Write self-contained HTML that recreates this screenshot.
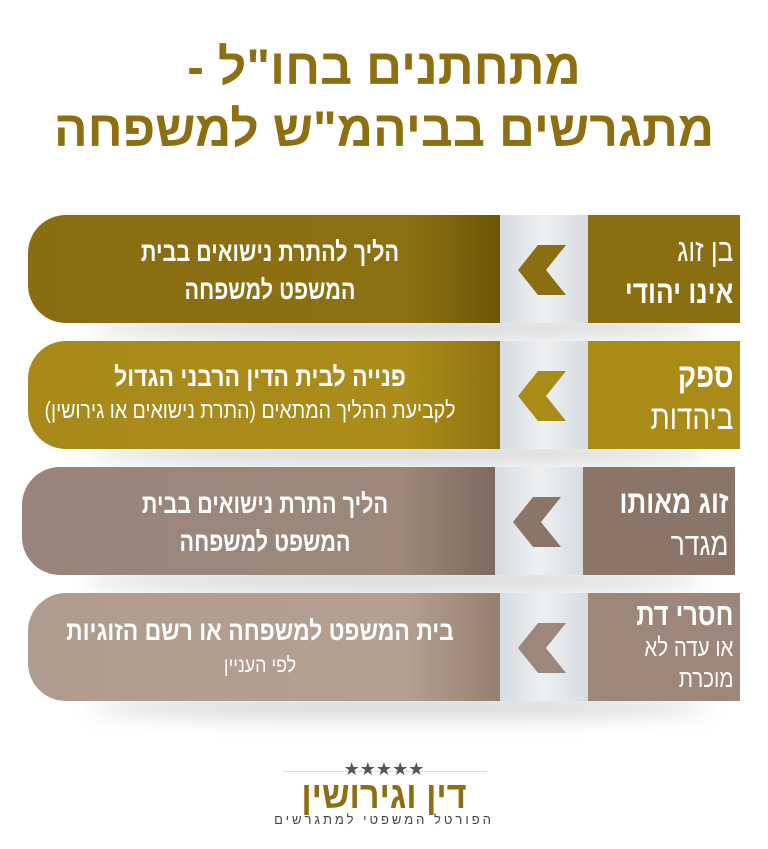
<!DOCTYPE html>
<html><head><meta charset="utf-8"><style>
body{margin:0;width:768px;height:849px;background:#fff;position:relative;overflow:hidden;font-family:"Liberation Sans","DejaVu Sans",sans-serif;}
.t{position:absolute;left:0;width:768px;text-align:center;color:#8d6f12;font-weight:bold;font-size:50px;direction:rtl;line-height:58px;}
.row{position:absolute;height:108px;}
.sh{position:absolute;height:20px;border-radius:50%;background:rgba(0,0,0,0.18);filter:blur(10px);}
.pill{position:absolute;top:0;height:108px;border-radius:38px 0 0 38px;}
.strip{position:absolute;top:0;height:108px;background:linear-gradient(90deg,#d7dce0,#eef0f2 50%,#d7dce0);}
.lab{position:absolute;top:0;height:108px;}
.txt{position:absolute;color:#fff;direction:rtl;text-align:center;white-space:nowrap;}
.rl{text-align:right;transform:scaleX(.82);transform-origin:right;padding-right:8px;box-sizing:border-box;}
.c{position:absolute;}
</style></head><body>
<div class="t" style="top:38px">מתחתנים בחו"ל -</div>
<div class="t" style="top:100px">מתגרשים בביהמ"ש למשפחה</div>

<!-- row1 -->
<div class="sh" style="left:90px;width:620px;top:318px"></div>
<div class="row" style="top:215px;left:0;width:768px">
 <div class="pill" style="left:28px;width:472px;background:linear-gradient(90deg,#8a6d10,#8c7012 80%,#6e5608)"></div>
 <div class="strip" style="left:500px;width:88px"></div>
 <div class="lab" style="left:588px;width:152px;background:#8a6e10"></div>
 <div class="txt" style="left:60px;width:420px;top:18px;font-size:27px;line-height:38px;font-weight:bold;transform:scaleX(.8)">הליך להתרת נישואים בבית<br>המשפט למשפחה</div>
 <div class="txt rl" style="left:588px;width:152px;top:14px;font-size:32px;line-height:42px">בן זוג<br><b>אינו יהודי</b></div>
 <svg class="c" style="left:518px;top:30px" width="50" height="50"><polygon points="20,0 48,0 28,25 48,50 20,50 0,25" fill="#8a6e10"/></svg>
</div>

<!-- row2 -->
<div class="sh" style="left:90px;width:620px;top:444px"></div>
<div class="row" style="top:341px;left:0;width:768px">
 <div class="pill" style="left:28px;width:472px;background:linear-gradient(90deg,#a8891a,#ab8c1a 80%,#8e7210)"></div>
 <div class="strip" style="left:500px;width:88px"></div>
 <div class="lab" style="left:588px;width:152px;background:#aa8b18"></div>
 <div class="txt" style="left:30px;width:460px;top:20px;font-size:27px;line-height:32px;transform:scaleX(.85)"><b>פנייה לבית הדין הרבני הגדול</b><br><span style="font-size:23px">לקביעת ההליך המתאים (התרת נישואים או גירושין)</span></div>
 <div class="txt rl" style="left:588px;width:152px;top:14px;font-size:34px;line-height:42px"><b>ספק</b><br>ביהדות</div>
 <svg class="c" style="left:518px;top:30px" width="50" height="50"><polygon points="20,0 48,0 28,25 48,50 20,50 0,25" fill="#aa8b18"/></svg>
</div>

<!-- row3 -->
<div class="sh" style="left:85px;width:620px;top:571px"></div>
<div class="row" style="top:467px;left:0;width:768px">
 <div class="pill" style="left:22px;width:473px;background:linear-gradient(90deg,#98847a,#9d887b 80%,#7e6a5e)"></div>
 <div class="strip" style="left:495px;width:88px"></div>
 <div class="lab" style="left:583px;width:152px;background:#8a7568"></div>
 <div class="txt" style="left:55px;width:420px;top:18px;font-size:27px;line-height:38px;font-weight:bold;transform:scaleX(.8)">הליך התרת נישואים בבית<br>המשפט למשפחה</div>
 <div class="txt rl" style="left:583px;width:152px;top:14px;font-size:32px;line-height:42px"><b>זוג מאותו</b><br>מגדר</div>
 <svg class="c" style="left:513px;top:30px" width="50" height="50"><polygon points="20,0 48,0 28,25 48,50 20,50 0,25" fill="#8a7568"/></svg>
</div>

<!-- row4 -->
<div class="sh" style="left:90px;width:620px;top:697px"></div>
<div class="row" style="top:593px;left:0;width:768px">
 <div class="pill" style="left:28px;width:472px;background:linear-gradient(90deg,#b09c8e,#b4a092 80%,#957f70)"></div>
 <div class="strip" style="left:500px;width:88px"></div>
 <div class="lab" style="left:588px;width:152px;background:#9c877a"></div>
 <div class="txt" style="left:30px;width:460px;top:22px;font-size:27px;line-height:32px;transform:scaleX(.85)"><b>בית המשפט למשפחה או רשם הזוגיות</b><br><span style="font-size:21px">לפי העניין</span></div>
 <div class="txt rl" style="left:588px;width:152px;top:6px;font-size:25px;line-height:31px"><b style="font-size:31px">חסרי דת</b><br>או עדה לא<br>מוכרת</div>
 <svg class="c" style="left:518px;top:30px" width="50" height="50"><polygon points="20,0 48,0 28,25 48,50 20,50 0,25" fill="#9c877a"/></svg>
</div>

<!-- logo -->
<div style="position:absolute;left:283px;top:771px;width:204px;height:1px;background:#ddd"></div>
<div style="position:absolute;left:0;width:768px;top:759px;text-align:center;color:#555;font-size:18px;">★★★★★</div>
<div style="position:absolute;left:0;width:768px;top:777px;text-align:center;color:#8d6f12;font-size:38px;font-weight:bold;direction:rtl;line-height:38px;transform:scaleX(.9)">דין וגירושין</div>
<div style="position:absolute;left:0;width:768px;top:812px;text-align:center;color:#444;font-size:13px;letter-spacing:3px;direction:rtl">הפורטל המשפטי למתגרשים</div>
</body></html>
